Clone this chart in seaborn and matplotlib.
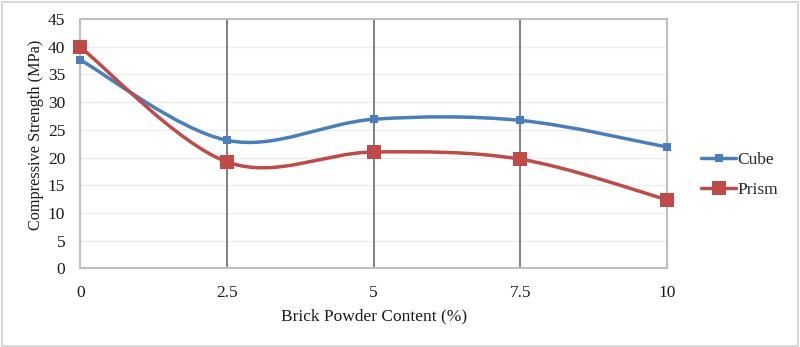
import numpy as np
import pandas as pd
import seaborn as sns
import matplotlib
matplotlib.use("Agg")
import matplotlib.pyplot as plt
from matplotlib.path import Path
from matplotlib.patches import PathPatch, Rectangle
from matplotlib.lines import Line2D

content = [0, 2.5, 5, 7.5, 10]
cube = [37.6, 23.1, 26.9, 26.7, 21.9]
prism = [39.9, 19.2, 21.0, 19.7, 12.4]
series_names = ["Cube", "Prism"]
colors = {"Cube": "#4a7ebb", "Prism": "#be4b48"}
marker_sizes = {"Cube": 6.0, "Prism": 9.5}

sns.set_theme(style="white")
plt.rcParams["font.family"] = ["Liberation Serif", "DejaVu Serif"]

df = pd.DataFrame({
    "content": content * 2,
    "strength": cube + prism,
    "series": ["Cube"] * len(content) + ["Prism"] * len(content),
})

fig = plt.figure(figsize=(8.0, 3.47), dpi=100)
ax = fig.add_axes([0.1006, 0.2268, 0.7328, 0.7184])


def smooth_path(xs, ys, t=1/6):
    pts = np.column_stack([xs, ys]).astype(float)
    n = len(pts)
    verts = [pts[0]]
    codes = [Path.MOVETO]
    for i in range(n - 1):
        p0 = pts[i - 1] if i > 0 else pts[i]
        p1 = pts[i]
        p2 = pts[i + 1]
        p3 = pts[i + 2] if i + 2 < n else pts[i + 1]
        c1 = p1 + (p2 - p0) * t
        c2 = p2 - (p3 - p1) * t
        verts += [c1, c2, p2]
        codes += [Path.CURVE4] * 3
    return Path(verts, codes)


for name in series_names:
    sub = df[df.series == name]
    patch = PathPatch(smooth_path(sub.content.values, sub.strength.values),
                      facecolor="none", edgecolor=colors[name], lw=2.5,
                      zorder=3, capstyle="round", joinstyle="round")
    patch.set_clip_on(False)
    ax.add_patch(patch)

sns.lineplot(data=df, x="content", y="strength", hue="series", style="series",
             markers={"Cube": "s", "Prism": "s"}, dashes=False, linestyle="none",
             palette=colors, ax=ax, legend=False, zorder=4, markeredgewidth=0)
for line, name in zip(ax.lines, series_names):
    line.set_markersize(marker_sizes[name])
    line.set_clip_on(False)

ax.set_xlim(0, 10)
ax.set_ylim(0, 45)
ax.set_xticks(content)
ax.set_xticklabels(["0", "2.5", "5", "7.5", "10"])
ax.set_yticks(np.arange(0, 46, 5))
ax.tick_params(axis="both", length=0, labelsize=12.5, colors="#1a1a1a")
ax.tick_params(axis="x", pad=12)
ax.tick_params(axis="y", pad=11)

for yv in np.arange(5, 45, 5):
    ax.axhline(yv, color="#ececec", lw=1, zorder=1)
for xv in [2.5, 5, 7.5]:
    ax.axvline(xv, color="#808080", lw=1.4, zorder=2)
for s in ax.spines.values():
    s.set_visible(True)
    s.set_color("#bfbfbf")
    s.set_linewidth(1.5)

ax.set_xlabel("Brick Powder Content (%)", fontsize=12.5, color="#1a1a1a", labelpad=5)
ax.set_ylabel("Compressive Strength (MPa)", fontsize=11.7, color="#1a1a1a")
ax.yaxis.set_label_coords(-0.062, 0.535)

handles = [Line2D([0], [0], color=colors[n], lw=2.5, marker="s",
                  markersize=marker_sizes[n], markeredgewidth=0) for n in series_names]
fig.legend(handles, series_names, loc="center left", bbox_to_anchor=(0.857, 0.496),
           frameon=False, fontsize=12.5, handlelength=2.0, handletextpad=0.1,
           labelspacing=0.8)

fig.patches.append(Rectangle((0.002, 0.004), 0.996, 0.99, transform=fig.transFigure,
                             fill=False, edgecolor="#d9d9d9", lw=1.5))

fig.savefig("out.png", dpi=100)
